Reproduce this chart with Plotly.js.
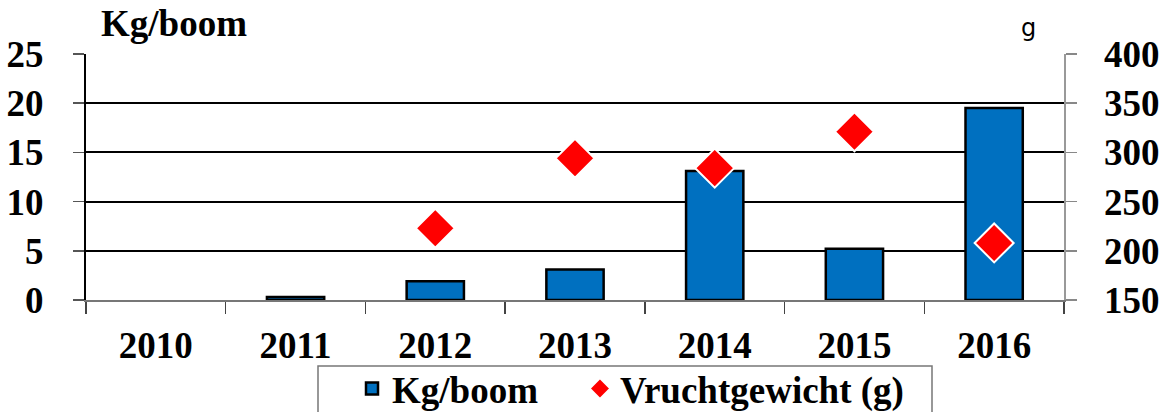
<!DOCTYPE html>
<html><head><meta charset="utf-8">
<script src="https://cdn.plot.ly/plotly-3.0.1.min.js"></script>
<style>html,body{margin:0;padding:0;background:#fff}#chart{width:1166px;height:412px}</style>
</head><body><div id="chart"></div>
<script>
const years = ['2010','2011','2012','2013','2014','2015','2016'];
const kgPerTree = [null, 0.3, 1.9, 3.1, 13.1, 5.2, 19.5];
const fruitWeight = [null, null, 223, 294, 284, 321, 208];
const seriesNames = ['Kg/boom', 'Vruchtgewicht (g)'];

const F = 'Liberation Serif, Times New Roman, serif';
const FS = 37;
const data = [
  {type:'bar', x:years, y:kgPerTree, name:seriesNames[0] + '\u00a0\u00a0\u00a0\u00a0', width:0.41,
   marker:{color:'#0070C0', line:{color:'#000', width:2.5}}, yaxis:'y'},
  {type:'scatter', mode:'markers', x:years, y:fruitWeight, name:seriesNames[1], yaxis:'y2',
   marker:{symbol:'diamond', color:'#FF0000', size:30, line:{color:'#fff', width:2}}}
];
const layout = {
  width:1166, height:412,
  margin:{l:86, r:102, t:54, b:112},
  paper_bgcolor:'#fff', plot_bgcolor:'#fff',
  font:{family:F, size:FS, color:'#000', weight:'bold'},
  showlegend:true,
  legend:{orientation:'h', xref:'container', yref:'container', x:352/1166, xanchor:'left',
    y:1-389/412, yanchor:'middle', borderwidth:0, bgcolor:'rgba(0,0,0,0)',
    font:{family:F, size:FS, weight:'bold'}, traceorder:'normal'},
  xaxis:{type:'category', tickson:'boundaries', ticks:'outside', ticklen:12, tickwidth:1.5,
    tickcolor:'#444', showline:true, linecolor:'#777', linewidth:1.5, showgrid:false,
    ticklabelstandoff:12, tickfont:{family:F, size:FS, weight:'bold'}},
  yaxis:{range:[0,25], dtick:5, ticks:'outside', ticklen:11, tickwidth:1.5, tickcolor:'#555',
    showline:true, linecolor:'#000', linewidth:2, showgrid:true, gridcolor:'#000', gridwidth:2,
    zeroline:false, ticklabelstandoff:22, tickfont:{family:F, size:FS, weight:'bold'}},
  yaxis2:{range:[150,400], dtick:50, overlaying:'y', side:'right', ticks:'outside', ticklen:11,
    tickwidth:1.5, tickcolor:'#888', showline:true, linecolor:'#999', linewidth:1.5,
    showgrid:false, zeroline:false, ticklabelstandoff:20, tickfont:{family:F, size:FS, weight:'bold'}},
  shapes:[
    {type:'rect', xref:'paper', yref:'paper', x0:(318-86)/978, x1:(932-86)/978,
     y0:(300-366)/246, y1:(300-420)/246, line:{color:'#777', width:1.5}, fillcolor:'rgba(0,0,0,0)'}
  ],
  annotations:[
    {text:'Kg/boom', xref:'paper', yref:'paper', x:(99-86)/978, y:1, xanchor:'left', yanchor:'bottom',
     yshift:8, showarrow:false, font:{family:F, size:FS, weight:'bold'}},
    {text:'g', xref:'paper', yref:'paper', x:(1028-86)/978, y:1, xanchor:'center', yanchor:'bottom',
     yshift:10, showarrow:false, font:{family:'DejaVu Sans, sans-serif', size:24, weight:'normal'}}
  ]
};
Plotly.newPlot('chart', data, layout, {displayModeBar:false, staticPlot:true});
</script></body></html>
